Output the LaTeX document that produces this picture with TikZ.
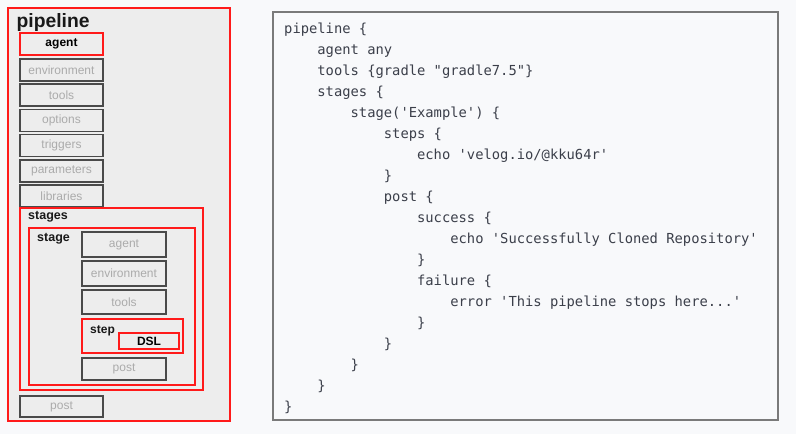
\documentclass[tikz,border=0pt]{standalone}
\usepackage{fontspec}
\setmainfont{Liberation Sans}
\newfontfamily\codefont{DejaVu Sans Mono}
\definecolor{pagebg}{HTML}{F8F9FB}
\definecolor{panel}{HTML}{EDEDED}
\definecolor{boxline}{HTML}{4A4A4A}
\definecolor{lbl}{HTML}{ABABAB}
\definecolor{hot}{HTML}{FF1A1A}
\definecolor{codetxt}{HTML}{3B3F4A}
\definecolor{frame}{HTML}{7A7A7A}
\newcommand{\tb}{\phantom{0000}}
\newcommand{\q}{\textquotesingle}
\tikzset{
  redbox/.style={draw=hot, line width=2pt, fill=panel, anchor=north west, inner sep=0pt, outer sep=0pt},
  graybox/.style={draw=boxline, line width=1.5pt, fill=panel, text=lbl, anchor=north west,
    inner sep=0pt, outer sep=0pt, font=\fontsize{12}{14}\selectfont},
  tag/.style={font=\bfseries\fontsize{12.5}{14}\selectfont, anchor=base west, inner sep=0pt, text=black!90}
}
\begin{document}
\begin{tikzpicture}[x=1pt, y=-1pt]
  \fill[pagebg] (0,0) rectangle (796,434);
  \useasboundingbox (0,0) rectangle (796,434);
  % left panel
  \node[redbox, minimum width=222pt, minimum height=413pt] (pipeline) at (8,8) {};
  \node[tag, font=\bfseries\fontsize{19.3}{22}\selectfont] (pipetitle) at (16.5,27) {pipeline};
  \node[redbox, minimum width=83pt, minimum height=22pt, font=\bfseries\fontsize{12}{14}\selectfont] (agent) at (20,33) {agent};
  \foreach \nm/\lbl [count=\i from 0] in {env/environment, tools/tools, opts/options, trig/triggers, params/parameters, libs/libraries}
    \node[graybox, minimum width=83pt, minimum height=22pt] (\nm) at (20,{59+25.2*\i}) {\lbl};
  \node[redbox, minimum width=183pt, minimum height=182pt] (stages) at (20,208) {};
  \node[tag] (stagestag) at (28,219) {stages};
  \node[redbox, minimum width=166pt, minimum height=157pt] (stage) at (29,228) {};
  \node[tag] (stagetag) at (37,241) {stage};
  \node[graybox, minimum width=84pt, minimum height=25pt] (sagent) at (82,232) {agent};
  \node[graybox, minimum width=84pt, minimum height=25pt] (senv) at (82,261) {environment};
  \node[graybox, minimum width=84pt, minimum height=24pt] (stools) at (82,290) {tools};
  \node[redbox, minimum width=101pt, minimum height=34pt] (step) at (82,319) {};
  \node[tag, font=\bfseries\fontsize{12}{14}\selectfont] (steptag) at (90,333) {step};
  \node[redbox, minimum width=60pt, minimum height=16pt, font=\bfseries\fontsize{12}{14}\selectfont] (dsl) at (119,333) {DSL};
  \node[graybox, minimum width=84pt, minimum height=22pt] (spost) at (82,358) {post};
  \node[graybox, minimum width=83pt, minimum height=21pt] (post) at (20,396) {post};
  % code panel
  \draw[frame, line width=1.2pt] (273,12) rectangle (778,420);
  \node[anchor=north west, inner sep=0pt, align=left, text=codetxt,
    font=\codefont\fontsize{13.8}{21}\selectfont] (code) at (284,22.5) {%
    pipeline \{\\
    \tb agent any\\
    \tb tools \{gradle "gradle7.5"\}\\
    \tb stages \{\\
    \tb\tb stage(\q Example\q) \{\\
    \tb\tb\tb steps \{\\
    \tb\tb\tb\tb echo \q velog.io/@kku64r\q\\
    \tb\tb\tb \}\\
    \tb\tb\tb post \{\\
    \tb\tb\tb\tb success \{\\
    \tb\tb\tb\tb\tb echo \q Successfully Cloned Repository\q\\
    \tb\tb\tb\tb \}\\
    \tb\tb\tb\tb failure \{\\
    \tb\tb\tb\tb\tb error \q This pipeline stops here...\q\\
    \tb\tb\tb\tb \}\\
    \tb\tb\tb \}\\
    \tb\tb \}\\
    \tb \}\\
    \}};
\end{tikzpicture}
\end{document}
